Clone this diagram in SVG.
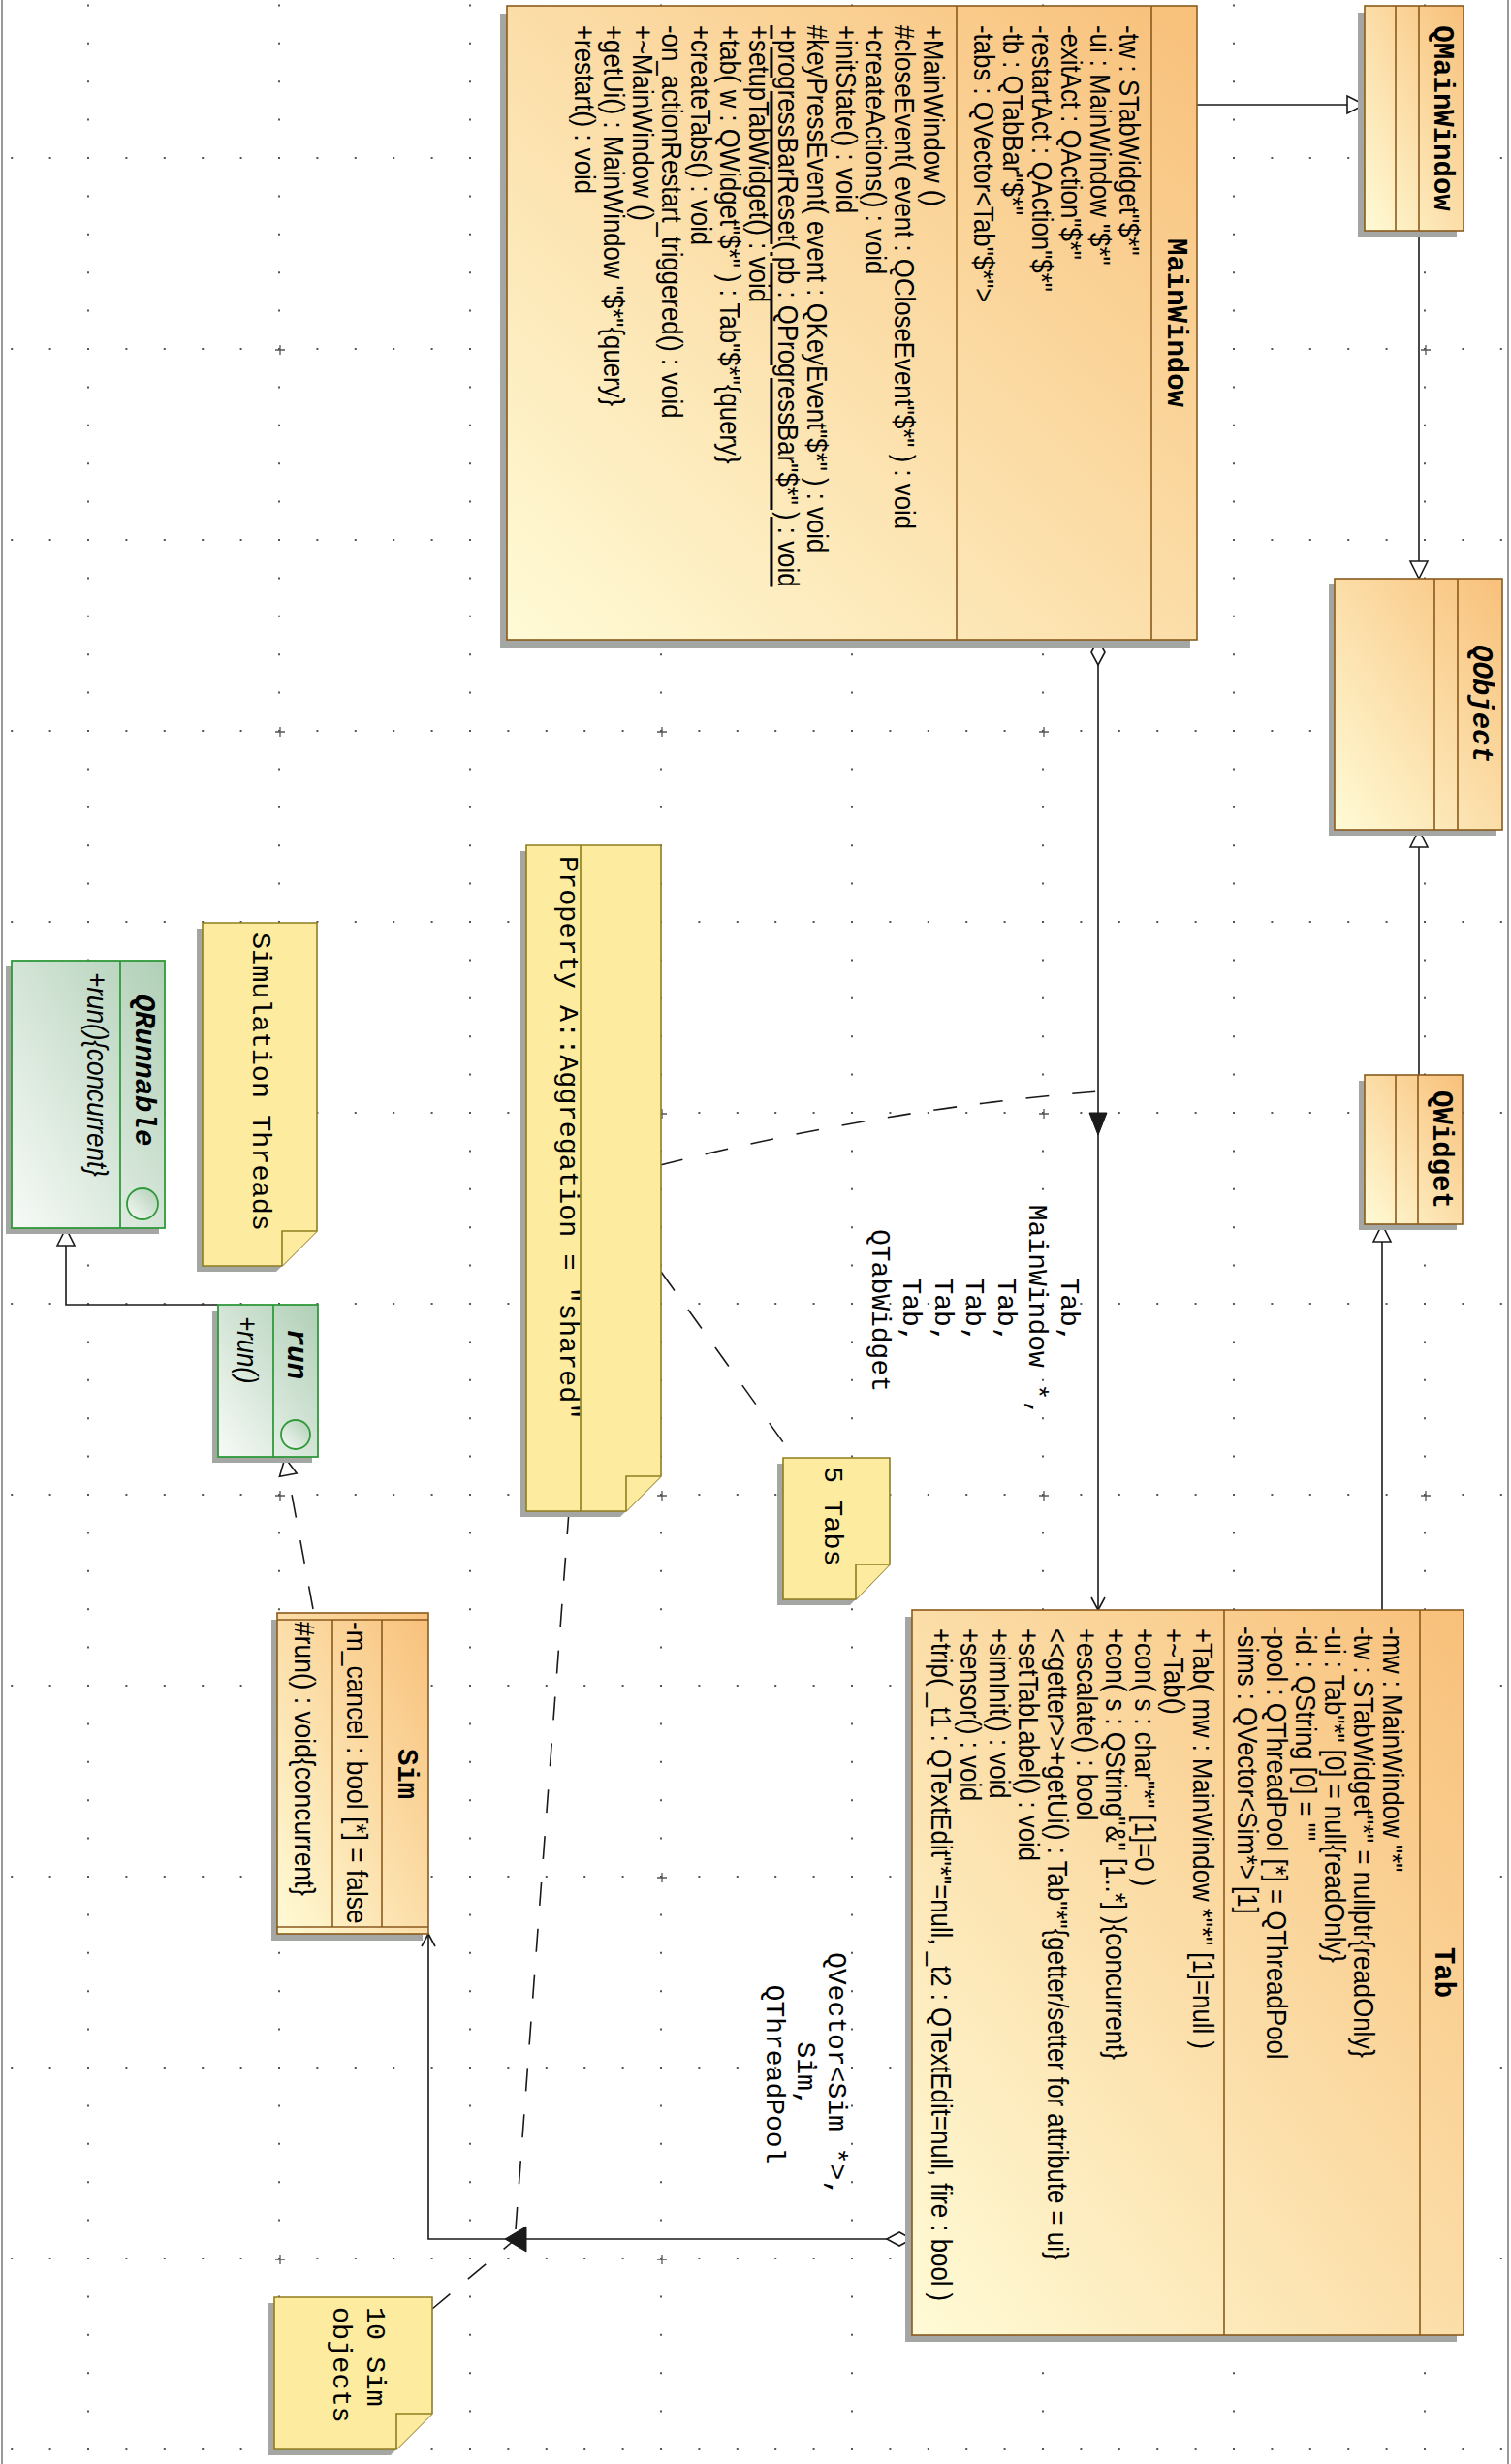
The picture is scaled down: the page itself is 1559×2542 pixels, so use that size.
<svg xmlns="http://www.w3.org/2000/svg" width="1559" height="2542" viewBox="0 0 1559 2542">
<defs>
<style>
.cls{fill:url(#gc);stroke:#8a5a1c;stroke-width:1.6}
.sh{fill:#a3a6a3}
.dv{fill:none;stroke:#8a5a1c;stroke-width:1.6}
.ifc{fill:url(#gi);stroke:#2f9a3a;stroke-width:1.8}
.idv{fill:none;stroke:#2f9a3a;stroke-width:1.8}
.note{fill:#fdec9f;stroke:#8f7d1f;stroke-width:1.6}
.ln{fill:none;stroke:#1a1a1a;stroke-width:1.6}
.dash{fill:none;stroke:#1a1a1a;stroke-width:1.6;stroke-dasharray:24 24}
.fill{fill:#1a1a1a;stroke:#1a1a1a;stroke-width:1}
text{dominant-baseline:central;fill:#000}
.m{font-family:"Liberation Sans",Arial,sans-serif;font-size:30px}
.mi{font-family:"Liberation Sans",Arial,sans-serif;font-size:30px;font-style:italic}
.h{font-family:"Liberation Mono","Courier New",monospace;font-size:29px;font-weight:bold;text-anchor:middle}
.hi{font-family:"Liberation Mono","Courier New",monospace;font-size:29px;font-weight:bold;font-style:italic;text-anchor:middle}
.n{font-family:"Liberation Mono","Courier New",monospace;font-size:28.5px}
.lb{font-family:"Liberation Mono","Courier New",monospace;font-size:28px;text-anchor:middle}
</style>
<linearGradient id="gc" x1="1" y1="0" x2="0" y2="1">
<stop offset="0" stop-color="#f8c07a"/>
<stop offset="1" stop-color="#fffbd6"/>
</linearGradient>
<linearGradient id="gi" x1="1" y1="0" x2="0" y2="1">
<stop offset="0" stop-color="#b0cfb6"/>
<stop offset="1" stop-color="#f7faf7"/>
</linearGradient>
<pattern id="grid" patternUnits="userSpaceOnUse" x="90" y="162" width="197" height="197">
<path fill="#555" d="M0 0h2v2h-2zM39.4 0h2v2h-2zM78.8 0h2v2h-2zM118.2 0h2v2h-2zM157.6 0h2v2h-2zM0 39.4h2v2h-2zM0 78.8h2v2h-2zM0 118.2h2v2h-2zM0 157.6h2v2h-2z"/>
</pattern>
<pattern id="cross" patternUnits="userSpaceOnUse" x="283" y="355" width="394" height="394">
<path d="M1 6h10M6 1v10" stroke="#555" stroke-width="1.3"/>
</pattern>
<marker id="gen" markerUnits="userSpaceOnUse" refX="18" refY="9" orient="auto" overflow="visible" markerWidth="20" markerHeight="20">
<path d="M0,0L18,9L0,18Z" fill="#fff" stroke="#1a1a1a" stroke-width="1.6"/>
</marker>
<marker id="open" markerUnits="userSpaceOnUse" refX="13" refY="7" orient="auto" overflow="visible" markerWidth="16" markerHeight="16">
<path d="M0,0L13,7L0,14" fill="none" stroke="#1a1a1a" stroke-width="1.6"/>
</marker>
<marker id="dia" markerUnits="userSpaceOnUse" refX="0" refY="7" orient="auto" overflow="visible" markerWidth="28" markerHeight="16">
<path d="M0,7L13,0L26,7L13,14Z" fill="#fff" stroke="#1a1a1a" stroke-width="1.6"/>
</marker>
</defs>

<rect width="1559" height="2542" fill="#fff"/>
<rect width="1559" height="2542" fill="url(#grid)"/>
<rect width="1559" height="2542" fill="url(#cross)"/>
<path d="M2,0V2542M1556,0V2542" stroke="#999" stroke-width="2"/>

<g id="connectors">
<path class="ln" d="M1235,108H1408" marker-end="url(#gen)"/>
<path class="ln" d="M1464,238V597" marker-end="url(#gen)"/>
<path class="ln" d="M1464,1109V856" marker-end="url(#gen)"/>
<path class="ln" d="M1426,1661V1263" marker-end="url(#gen)"/>
<path class="ln" d="M1133,660V1661" marker-start="url(#dia)" marker-end="url(#open)"/>
<polygon class="fill" points="1124,1148 1142,1148 1133,1171"/>
<path class="ln" d="M941,2310H442V1995" marker-start="url(#dia)" marker-end="url(#open)"/>
<polygon class="fill" points="543,2297 543,2323 521,2310"/>
<path class="ln" d="M225,1346H68V1267" marker-end="url(#gen)"/>
<path class="dash" d="M323,1660L294,1504" marker-end="url(#gen)"/>
<path class="dash" d="M681,1202Q915,1143 1133,1126"/>
<path class="dash" d="M682,1312L818,1502"/>
<path class="dash" d="M587,1559L532,2300"/>
<path class="dash" d="M446,2382L532,2310"/>
<g id="label-mainwindow-tab">
<text class="lb" transform="translate(1102 1352) rotate(90)">Tab,</text>
<text class="lb" transform="translate(1069.5 1352) rotate(90)">MainWindow *,</text>
<text class="lb" transform="translate(1037 1352) rotate(90)">Tab,</text>
<text class="lb" transform="translate(1004.5 1352) rotate(90)">Tab,</text>
<text class="lb" transform="translate(972 1352) rotate(90)">Tab,</text>
<text class="lb" transform="translate(939.5 1352) rotate(90)">Tab,</text>
<text class="lb" transform="translate(907 1352) rotate(90)">QTabWidget</text>
</g>
<g id="label-tab-sim">
<text class="lb" transform="translate(862 2140) rotate(90)">QVector&lt;Sim *&gt;,</text>
<text class="lb" transform="translate(830 2140) rotate(90)">Sim,</text>
<text class="lb" transform="translate(798 2140) rotate(90)">QThreadPool</text>
</g>
</g>

<g id="MainWindow">
<rect class="sh" x="516" y="14" width="712" height="654"/>
<rect class="cls" x="523" y="6" width="712" height="654"/>
<path class="dv" d="M1188,6V660M987,6V660"/>
<text class="h" transform="translate(1212 333) rotate(90)">MainWindow</text>
<text class="m" transform="translate(1165 26) rotate(90) scale(0.86 1)">-tw : STabWidget"$*"</text>
<text class="m" transform="translate(1135 26) rotate(90) scale(0.86 1)">-ui : MainWindow "$*"</text>
<text class="m" transform="translate(1105 26) rotate(90) scale(0.86 1)">-exitAct : QAction"$*"</text>
<text class="m" transform="translate(1075 26) rotate(90) scale(0.86 1)">-restartAct : QAction"$*"</text>
<text class="m" transform="translate(1045 26) rotate(90) scale(0.86 1)">-tb : QTabBar"$*"</text>
<text class="m" transform="translate(1015 26) rotate(90) scale(0.86 1)">-tabs : QVector&lt;Tab"$*"&gt;</text>
<text class="m" transform="translate(963 26) rotate(90) scale(0.86 1)">+MainWindow ()</text>
<text class="m" transform="translate(933 26) rotate(90) scale(0.86 1)">#closeEvent( event : QCloseEvent"$*" ) : void</text>
<text class="m" transform="translate(903 26) rotate(90) scale(0.86 1)">+createActions() : void</text>
<text class="m" transform="translate(873 26) rotate(90) scale(0.86 1)">+initState() : void</text>
<text class="m" transform="translate(843 26) rotate(90) scale(0.86 1)">#keyPressEvent( event : QKeyEvent"$*" ) : void</text>
<text class="m" transform="translate(813 26) rotate(90) scale(0.86 1)" text-decoration="underline">+progressBarReset( pb : QProgressBar"$*" ) : void</text>
<text class="m" transform="translate(783 26) rotate(90) scale(0.86 1)">+setupTabWidget() : void</text>
<text class="m" transform="translate(753 26) rotate(90) scale(0.86 1)">+tab( w : QWidget"$*" ) : Tab"$*"{query}</text>
<text class="m" transform="translate(723 26) rotate(90) scale(0.86 1)">+createTabs() : void</text>
<text class="m" transform="translate(693 26) rotate(90) scale(0.86 1)">-on_actionRestart_triggered() : void</text>
<text class="m" transform="translate(663 26) rotate(90) scale(0.86 1)">+~MainWindow ()</text>
<text class="m" transform="translate(633 26) rotate(90) scale(0.86 1)">+getUi() : MainWindow "$*"{query}</text>
<text class="m" transform="translate(603 26) rotate(90) scale(0.86 1)">+restart() : void</text>
</g>

<g id="QMainWindow">
<rect class="sh" x="1401" y="13" width="102" height="232"/>
<rect class="cls" x="1408" y="6" width="102" height="232"/>
<path class="dv" d="M1440,6V238M1464,6V238"/>
<text class="h" transform="translate(1487 122) rotate(90)">QMainWindow</text>
</g>

<g id="QObject">
<rect class="sh" x="1371" y="603" width="173" height="259"/>
<rect class="cls" x="1377" y="597" width="173" height="259"/>
<path class="dv" d="M1480,597V856M1504,597V856"/>
<text class="hi" transform="translate(1527 726) rotate(90)">QObject</text>
</g>

<g id="QWidget">
<rect class="sh" x="1402" y="1115" width="101" height="154"/>
<rect class="cls" x="1408" y="1109" width="101" height="154"/>
<path class="dv" d="M1440,1109V1263M1463,1109V1263"/>
<text class="h" transform="translate(1486 1186) rotate(90)">QWidget</text>
</g>

<g id="Tab">
<rect class="sh" x="934" y="1668" width="569" height="748"/>
<rect class="cls" x="941" y="1661" width="569" height="748"/>
<path class="dv" d="M1465,1661V2409M1263,1661V2409"/>
<text class="h" transform="translate(1488 2035) rotate(90)">Tab</text>
<text class="m" transform="translate(1437 1678) rotate(90) scale(0.86 1)">-mw : MainWindow "*"</text>
<text class="m" transform="translate(1407 1678) rotate(90) scale(0.86 1)">-tw : STabWidget"*" = nullptr{readOnly}</text>
<text class="m" transform="translate(1377 1678) rotate(90) scale(0.86 1)">-ui : Tab"*" [0] = null{readOnly}</text>
<text class="m" transform="translate(1347 1678) rotate(90) scale(0.86 1)">-id : QString [0] = ""</text>
<text class="m" transform="translate(1317 1678) rotate(90) scale(0.86 1)">-pool : QThreadPool [*] = QThreadPool</text>
<text class="m" transform="translate(1287 1678) rotate(90) scale(0.86 1)">-sims : QVector&lt;Sim*&gt; [1]</text>
<text class="m" transform="translate(1241 1680) rotate(90) scale(0.86 1)">+Tab( mw : MainWindow *"*" [1]=null )</text>
<text class="m" transform="translate(1211 1680) rotate(90) scale(0.86 1)">+~Tab()</text>
<text class="m" transform="translate(1181 1680) rotate(90) scale(0.86 1)">+con( s : char"*" [1]=0 )</text>
<text class="m" transform="translate(1151 1680) rotate(90) scale(0.86 1)">+con( s : QString"&amp;" [1..*] ){concurrent}</text>
<text class="m" transform="translate(1121 1680) rotate(90) scale(0.86 1)">+escalate() : bool</text>
<text class="m" transform="translate(1091 1680) rotate(90) scale(0.86 1)">&lt;&lt;getter&gt;&gt;+getUi() : Tab"*"{getter/setter for attribute = ui}</text>
<text class="m" transform="translate(1061 1680) rotate(90) scale(0.86 1)">+setTabLabel() : void</text>
<text class="m" transform="translate(1031 1680) rotate(90) scale(0.86 1)">+simInit() : void</text>
<text class="m" transform="translate(1001 1680) rotate(90) scale(0.86 1)">+sensor() : void</text>
<text class="m" transform="translate(971 1680) rotate(90) scale(0.86 1)">+trip( _t1 : QTextEdit"*"=null, _t2 : QTextEdit=null, fire : bool )</text>
</g>

<g id="Sim">
<rect class="sh" x="280" y="1671" width="156" height="331"/>
<rect class="cls" x="286" y="1664" width="156" height="331"/>
<path class="dv" d="M286,1671H442M286,1988H442M343,1671V1988M394,1671V1988"/>
<text class="h" transform="translate(418 1830) rotate(90)">Sim</text>
<text class="m" transform="translate(369 1673) rotate(90) scale(0.88 1)">-m_cancel : bool [*] = false</text>
<text class="m" transform="translate(315 1673) rotate(90) scale(0.88 1)">#run() : void{concurrent}</text>
</g>

<g id="QRunnable">
<rect class="sh" x="6" y="997" width="158" height="276"/>
<rect class="ifc" x="12" y="991" width="158" height="276"/>
<path class="idv" d="M124,991V1267"/>
<circle class="ifc" cx="147" cy="1242" r="16"/>
<text class="hi" transform="translate(147 1104) rotate(90)">QRunnable</text>
<text class="mi" transform="translate(100 1003) rotate(90) scale(0.87 1)">+run(){concurrent}</text>
</g>

<g id="run">
<rect class="sh" x="219" y="1352" width="103" height="157"/>
<rect class="ifc" x="225" y="1346" width="103" height="157"/>
<path class="idv" d="M282,1346V1503"/>
<circle class="ifc" cx="305" cy="1480" r="15"/>
<text class="hi" transform="translate(304 1397) rotate(90)">run</text>
<text class="mi" transform="translate(255 1358) rotate(90) scale(0.86 1)">+run()</text>
</g>

<g id="note-simulation-threads">
<polygon class="sh" points="203,958 321,958 321,1276 285,1312 203,1312"/>
<polygon class="note" points="209,952 327,952 327,1270 291,1306 209,1306"/>
<path class="note" d="M291,1306V1270H327"/>
<text class="n" transform="translate(268 962) rotate(90)">Simulation Threads</text>
</g>

<g id="note-property">
<polygon class="sh" points="537,878 676,878 676,1529 640,1565 537,1565"/>
<polygon class="note" points="543,872 682,872 682,1523 646,1559 543,1559"/>
<path class="note" d="M646,1559V1523H682"/>
<path class="dv" style="stroke:#8f7d1f" d="M599,872V1559"/>
<text class="n" transform="translate(585 883) rotate(90)">Property A::Aggregation = "shared"</text>
</g>

<g id="note-5-tabs">
<polygon class="sh" points="802,1510 912,1510 912,1620 877,1656 802,1656"/>
<polygon class="note" points="808,1504 918,1504 918,1614 883,1650 808,1650"/>
<path class="note" d="M883,1650V1614H918"/>
<text class="n" transform="translate(858 1513) rotate(90)">5 Tabs</text>
</g>

<g id="note-10-sim-objects">
<polygon class="sh" points="277,2376 440,2376 440,2496 403,2533 277,2533"/>
<polygon class="note" points="283,2370 446,2370 446,2490 409,2527 283,2527"/>
<path class="note" d="M409,2527V2490H446"/>
<text class="n" transform="translate(386 2380) rotate(90)">10 Sim</text>
<text class="n" transform="translate(351 2380) rotate(90)">objects</text>
</g>
</svg>
